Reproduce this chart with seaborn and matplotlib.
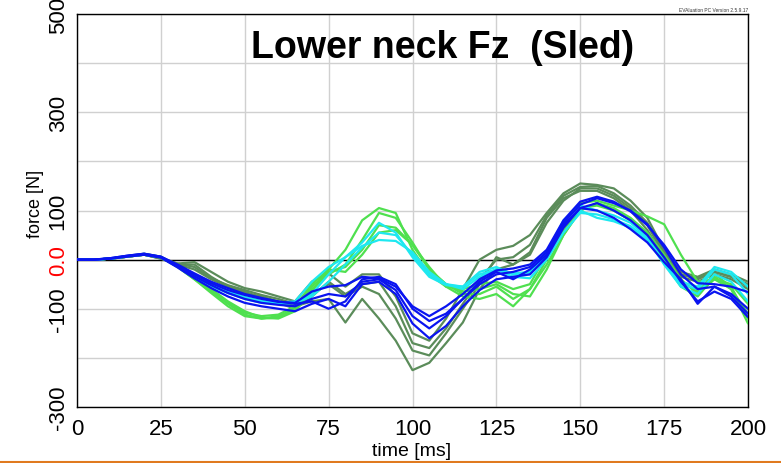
import numpy as np
import pandas as pd
import matplotlib
matplotlib.use("Agg")
import matplotlib.pyplot as plt
import seaborn as sns
from matplotlib.lines import Line2D

# sample times [ms]
time_ms = list(range(0, 205, 5))

# dark green channels
dg1 = [0, 0, 2, 6, 10, 2, -8, -5, -25, -45, -58, -65, -75, -85, -45, -28, -55, -30, -30, -75, -150,
       -165, -120, -60, 0, 20, 28, 50, 95, 135, 155, 152, 145, 120, 85, 20, -25, -35, -20, -30, -45]
dg2 = [0, 0, 2, 6, 10, 2, -10, -10, -35, -55, -68, -75, -85, -95, -85, -80, -128, -80, -120, -165, -225,
       -210, -170, -128, -60, -20, -10, 10, 75, 120, 145, 145, 130, 105, 70, 10, -30, -40, -25, -35, -55]
dg3 = [0, 0, 2, 6, 10, 3, -8, -15, -38, -52, -62, -72, -80, -90, -70, -50, -75, -55, -70, -120, -185,
       -195, -150, -100, -50, 5, -10, 15, 85, 125, 140, 140, 125, 100, 60, 5, -35, -45, -30, -40, -60]
dg4 = [0, 0, 2, 6, 10, 3, -10, -20, -40, -55, -65, -78, -88, -100, -75, -45, -70, -50, -45, -95, -170,
       -180, -140, -90, -40, 0, 5, 30, 90, 130, 148, 150, 135, 110, 75, 15, -30, -38, -25, -35, -50]

# light green channels
lg1 = [0, 0, 2, 7, 12, 6, -12, -35, -60, -85, -105, -118, -120, -105, -65, -20, 20, 80, 105, 95, 20,
       -30, -55, -60, -50, -45, -60, -50, 10, 75, 115, 120, 110, 100, 88, 72, 10, -45, -40, -50, -90]
lg2 = [0, 0, 2, 7, 11, 5, -15, -40, -65, -90, -112, -120, -118, -100, -60, -30, -10, 40, 95, 85, 35,
       -20, -50, -65, -60, -50, -70, -75, -20, 50, 100, 115, 105, 85, 55, 10, -40, -70, -40, -60, -110]
lg3 = [0, 0, 2, 6, 11, 5, -15, -40, -68, -95, -115, -120, -115, -100, -55, -25, -15, 20, 70, 65, 30,
       -20, -50, -70, -70, -55, -80, -60, 0, 60, 105, 110, 100, 80, 50, -5, -55, -75, -35, -60, -130]
lg4 = [0, 0, 2, 6, 10, 4, -14, -38, -62, -88, -108, -115, -112, -95, -50, -20, -25, 10, 55, 60, 30,
       -15, -55, -75, -80, -70, -95, -60, -10, 50, 100, 115, 100, 80, 50, 0, -45, -65, -30, -55, -120]

# cyan channels
cy1 = [0, 0, 2, 7, 11, 5, -14, -34, -52, -66, -78, -86, -90, -88, -70, -30, 5, 35, 75, 55, 5,
       -35, -52, -55, -25, -15, -30, -30, 10, 70, 100, 85, 78, 65, 40, -5, -50, -60, -20, -30, -70]
cy2 = [0, 0, 2, 7, 10, 5, -14, -35, -54, -68, -80, -88, -90, -88, -75, -45, -10, 25, 55, 50, 10,
       -30, -50, -55, -30, -20, -35, -38, 0, 55, 95, 92, 82, 68, 42, -10, -55, -70, -30, -45, -85]
cy3 = [0, 0, 2, 7, 11, 5, -13, -33, -50, -64, -76, -84, -88, -85, -45, -15, 5, 28, 40, 38, 15,
       -25, -50, -60, -35, -20, -28, -25, 15, 80, 110, 100, 90, 75, 45, -5, -45, -55, -15, -25, -55]

# blue channels
bl1 = [0, 0, 3, 8, 12, 6, -12, -30, -48, -62, -72, -80, -86, -88, -65, -55, -52, -35, -38, -55, -95,
       -115, -95, -70, -40, -22, -18, -10, 20, 80, 118, 128, 118, 98, 70, 30, -20, -48, -50, -55, -66]
bl2 = [0, 0, 2, 7, 10, 5, -14, -34, -52, -68, -80, -88, -92, -95, -80, -70, -75, -45, -40, -62, -115,
       -140, -115, -80, -50, -30, -25, -15, 15, 75, 112, 125, 115, 100, 72, 25, -30, -60, -55, -70, -100]
bl3 = [0, 0, 2, 6, 10, 4, -16, -38, -58, -75, -88, -95, -100, -105, -90, -80, -95, -50, -45, -70, -130,
       -160, -135, -95, -62, -40, -35, -30, 5, 65, 105, 115, 100, 80, 50, 5, -45, -85, -65, -80, -117]
bl4 = [0, 0, 3, 8, 12, 6, -10, -28, -45, -58, -70, -78, -85, -90, -85, -100, -85, -40, -35, -50, -100,
       -125, -110, -80, -45, -25, -40, -20, 10, 70, 105, 100, 85, 62, 35, -5, -40, -90, -55, -75, -110]

channels = {
    "dg1": dg1, "dg2": dg2, "dg3": dg3, "dg4": dg4,
    "lg1": lg1, "lg2": lg2, "lg3": lg3, "lg4": lg4,
    "cy1": cy1, "cy2": cy2, "cy3": cy3,
    "bl1": bl1, "bl2": bl2, "bl3": bl3, "bl4": bl4,
}
group_colors = {"dg": "#5b8c5a", "lg": "#4fe04f", "cy": "#1ee8f0", "bl": "#0a14f0"}

rows = []
for name, vals in channels.items():
    for t, v in zip(time_ms, vals):
        rows.append({"time": t, "force": v, "channel": name})
df = pd.DataFrame(rows)
palette = {name: group_colors[name[:2]] for name in channels}

sns.set_theme(style="white")
plt.rcParams["font.family"] = ["Liberation Sans Narrow", "Liberation Sans", "DejaVu Sans"]
plt.rcParams["text.color"] = "black"
plt.rcParams["axes.labelcolor"] = "black"
plt.rcParams["xtick.color"] = "black"
plt.rcParams["ytick.color"] = "black"

fig = plt.figure(figsize=(7.81, 4.64), dpi=100)
ax = fig.add_axes([77 / 781, 1 - 408 / 464, 671 / 781, 393 / 464])

sns.lineplot(data=df, x="time", y="force", hue="channel", units="channel",
             estimator=None, palette=palette, linewidth=1.6, legend=False, ax=ax,
             zorder=3)

ax.axhline(0, color="black", linewidth=1.0, zorder=2)

ax.set_xlim(0, 200)
ax.set_ylim(-300, 500)
ax.set_xticks(range(0, 201, 25))
ax.set_yticks([-300, -100, 0, 100, 300, 500])
ax.set_yticks([-200, 200, 400], minor=True)
ax.set_yticklabels(["-300", "-100", "0.0", "100", "300", "500"], rotation=90, va="center")
ax.get_yticklabels()[2].set_color("red")
ax.grid(True, which="both", color="#d0d0d0", linewidth=1.0, zorder=0)
ax.set_axisbelow(True)

ax.tick_params(axis="both", which="both", direction="out", length=4, width=1, color="black",
               labelsize=16)
ax.tick_params(axis="x", which="major", pad=4)
ax.tick_params(axis="y", which="major", pad=2)
for s in ax.spines.values():
    s.set_color("black")
    s.set_linewidth(1.0)

ax.set_xlabel("time [ms]", fontsize=14)
ax.set_ylabel("force [N]", fontsize=13)
ax.xaxis.set_label_coords(335 / 671, -35 / 393)
ax.yaxis.set_label_coords(-33 / 671, 0.52)

ax.text(0.545, 0.915, "Lower neck Fz  (Sled)", transform=ax.transAxes, ha="center", va="center",
        fontsize=27, fontweight="bold", color="black", family=["Liberation Sans", "DejaVu Sans"])
fig.text(748 / 781, 1 - 11 / 464, "EVAluation PC Version 2.5.9.17", ha="right", va="center",
         fontsize=3.5, family=["Liberation Sans", "DejaVu Sans"], color="#333333")

fig.add_artist(Line2D([0, 1], [1.5 / 464, 1.5 / 464], color="#e07a1f", linewidth=1.5,
                      transform=fig.transFigure))

fig.savefig("out.png", dpi=100)
